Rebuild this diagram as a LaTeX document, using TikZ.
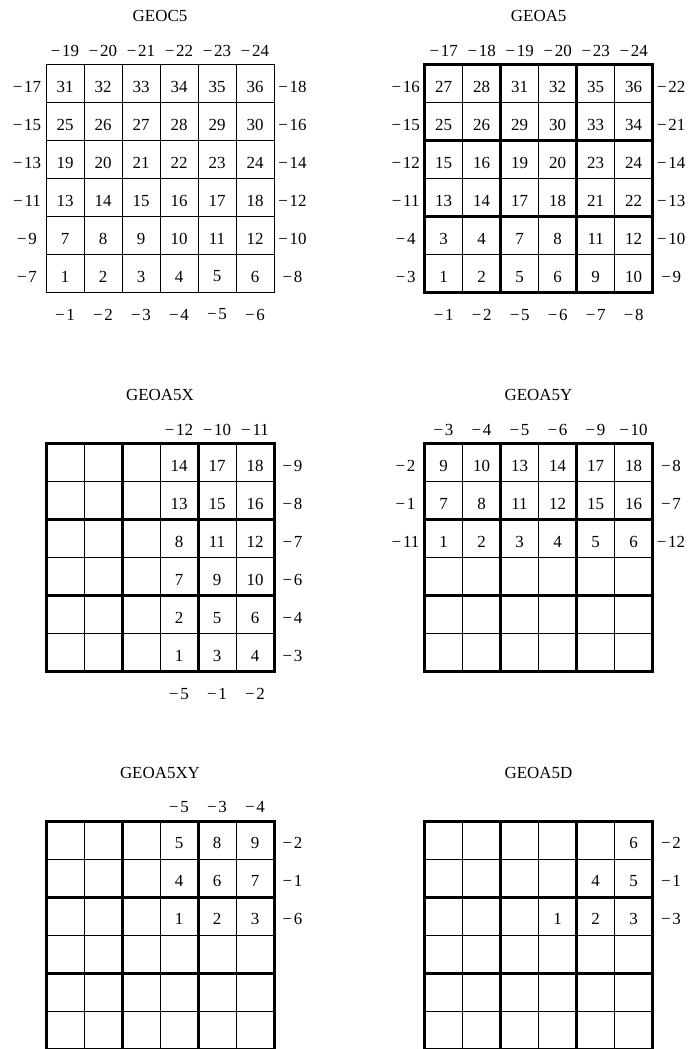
\documentclass[tikz,border=0pt]{standalone}
\usepackage{fontspec}
\setmainfont{Liberation Serif}
\tikzset{
  gridline/.style={line width=0.9bp, line cap=rect},
  heavyline/.style={line width=3bp, line cap=rect},
  lbl/.style={font=\fontsize{17}{20}\selectfont, inner sep=0pt, text=black},
}
\newcommand{\mn}{−\kern1.8bp}
\newcommand{\thinGrid}{\foreach \i in {0,...,6}{\draw[gridline] (\i*38,0) -- (\i*38,228); \draw[gridline] (0,\i*38) -- (228,\i*38);}}
\newcommand{\heavyGrid}{\foreach \i in {0,2,4,6}{\draw[heavyline] (\i*38,0) -- (\i*38,228); \draw[heavyline] (0,\i*38) -- (228,\i*38);}}
\newcommand{\putcells}[2]{\foreach \r/\c/\v in {#2}{\node[lbl] (#1-\r-\c) at ({(\c+0.5)*38},{(\r+0.5)*38+3}) {\v};}}
\newcommand{\toplabels}[2]{\foreach \c/\v in {#2}{\node[lbl] (#1-t\c) at ({(\c+0.5)*38},-14) {\mn\v};}}
\newcommand{\botlabels}[2]{\foreach \c/\v in {#2}{\node[lbl] (#1-b\c) at ({(\c+0.5)*38},250) {\mn\v};}}
\newcommand{\leftlabels}[2]{\foreach \r/\v in {#2}{\node[lbl] (#1-l\r) at (-19,{(\r+0.5)*38+3}) {\mn\v};}}
\newcommand{\rightlabels}[2]{\foreach \r/\v in {#2}{\node[lbl] (#1-r\r) at (246.5,{(\r+0.5)*38+3}) {\mn\v};}}
\begin{document}
\begin{tikzpicture}[x=1bp,y=-1bp]
\useasboundingbox (0,0) rectangle (689,1049);
\fill[white] (0,0) rectangle (689,1049);
% GEOC5
\begin{scope}[shift={(46,64.5)}]
  \node[lbl] (A-title) at (114,-48.5) {GEOC5};
  \thinGrid
  \foreach \r in {0,...,5}{\foreach \c in {0,...,5}{
    \pgfmathtruncatemacro{\v}{(5-\r)*6+\c+1}
    \node[lbl] (A-\r-\c) at ({(\c+0.5)*38},{(\r+0.5)*38+3}) {\v};}}
  \toplabels{A}{0/19,1/20,2/21,3/22,4/23,5/24}
  \botlabels{A}{0/1,1/2,2/3,3/4,4/5,5/6}
  \leftlabels{A}{0/17,1/15,2/13,3/11,4/9,5/7}
  \rightlabels{A}{0/18,1/16,2/14,3/12,4/10,5/8}
\end{scope}
% GEOA5
\begin{scope}[shift={(424.7,64.7)}]
  \node[lbl] (B-title) at (114,-48.5) {GEOA5};
  \thinGrid \heavyGrid
  \putcells{B}{0/0/27,0/1/28,0/2/31,0/3/32,0/4/35,0/5/36,
    1/0/25,1/1/26,1/2/29,1/3/30,1/4/33,1/5/34,
    2/0/15,2/1/16,2/2/19,2/3/20,2/4/23,2/5/24,
    3/0/13,3/1/14,3/2/17,3/3/18,3/4/21,3/5/22,
    4/0/3,4/1/4,4/2/7,4/3/8,4/4/11,4/5/12,
    5/0/1,5/1/2,5/2/5,5/3/6,5/4/9,5/5/10}
  \toplabels{B}{0/17,1/18,2/19,3/20,4/23,5/24}
  \botlabels{B}{0/1,1/2,2/5,3/6,4/7,5/8}
  \leftlabels{B}{0/16,1/15,2/12,3/11,4/4,5/3}
  \rightlabels{B}{0/22,1/21,2/14,3/13,4/10,5/9}
\end{scope}
% GEOA5X
\begin{scope}[shift={(46,443.8)}]
  \node[lbl] (C-title) at (114,-48.5) {GEOA5X};
  \thinGrid \heavyGrid
  \putcells{C}{0/3/14,0/4/17,0/5/18,
    1/3/13,1/4/15,1/5/16,
    2/3/8,2/4/11,2/5/12,
    3/3/7,3/4/9,3/5/10,
    4/3/2,4/4/5,4/5/6,
    5/3/1,5/4/3,5/5/4}
  \toplabels{C}{3/12,4/10,5/11}
  \botlabels{C}{3/5,4/1,5/2}
  \rightlabels{C}{0/9,1/8,2/7,3/6,4/4,5/3}
\end{scope}
% GEOA5Y
\begin{scope}[shift={(424.5,443.8)}]
  \node[lbl] (D-title) at (114,-48.5) {GEOA5Y};
  \thinGrid \heavyGrid
  \putcells{D}{0/0/9,0/1/10,0/2/13,0/3/14,0/4/17,0/5/18,
    1/0/7,1/1/8,1/2/11,1/3/12,1/4/15,1/5/16,
    2/0/1,2/1/2,2/2/3,2/3/4,2/4/5,2/5/6}
  \toplabels{D}{0/3,1/4,2/5,3/6,4/9,5/10}
  \leftlabels{D}{0/2,1/1,2/11}
  \rightlabels{D}{0/8,1/7,2/12}
\end{scope}
% GEOA5XY
\begin{scope}[shift={(46,821)}]
  \node[lbl] (E-title) at (114,-48.5) {GEOA5XY};
  \thinGrid \heavyGrid
  \putcells{E}{0/3/5,0/4/8,0/5/9,
    1/3/4,1/4/6,1/5/7,
    2/3/1,2/4/2,2/5/3}
  \toplabels{E}{3/5,4/3,5/4}
  \rightlabels{E}{0/2,1/1,2/6}
\end{scope}
% GEOA5D
\begin{scope}[shift={(424.5,821)}]
  \node[lbl] (F-title) at (114,-48.5) {GEOA5D};
  \thinGrid \heavyGrid
  \putcells{F}{0/5/6,
    1/4/4,1/5/5,
    2/3/1,2/4/2,2/5/3}
  \rightlabels{F}{0/2,1/1,2/3}
\end{scope}
\end{tikzpicture}
\end{document}
